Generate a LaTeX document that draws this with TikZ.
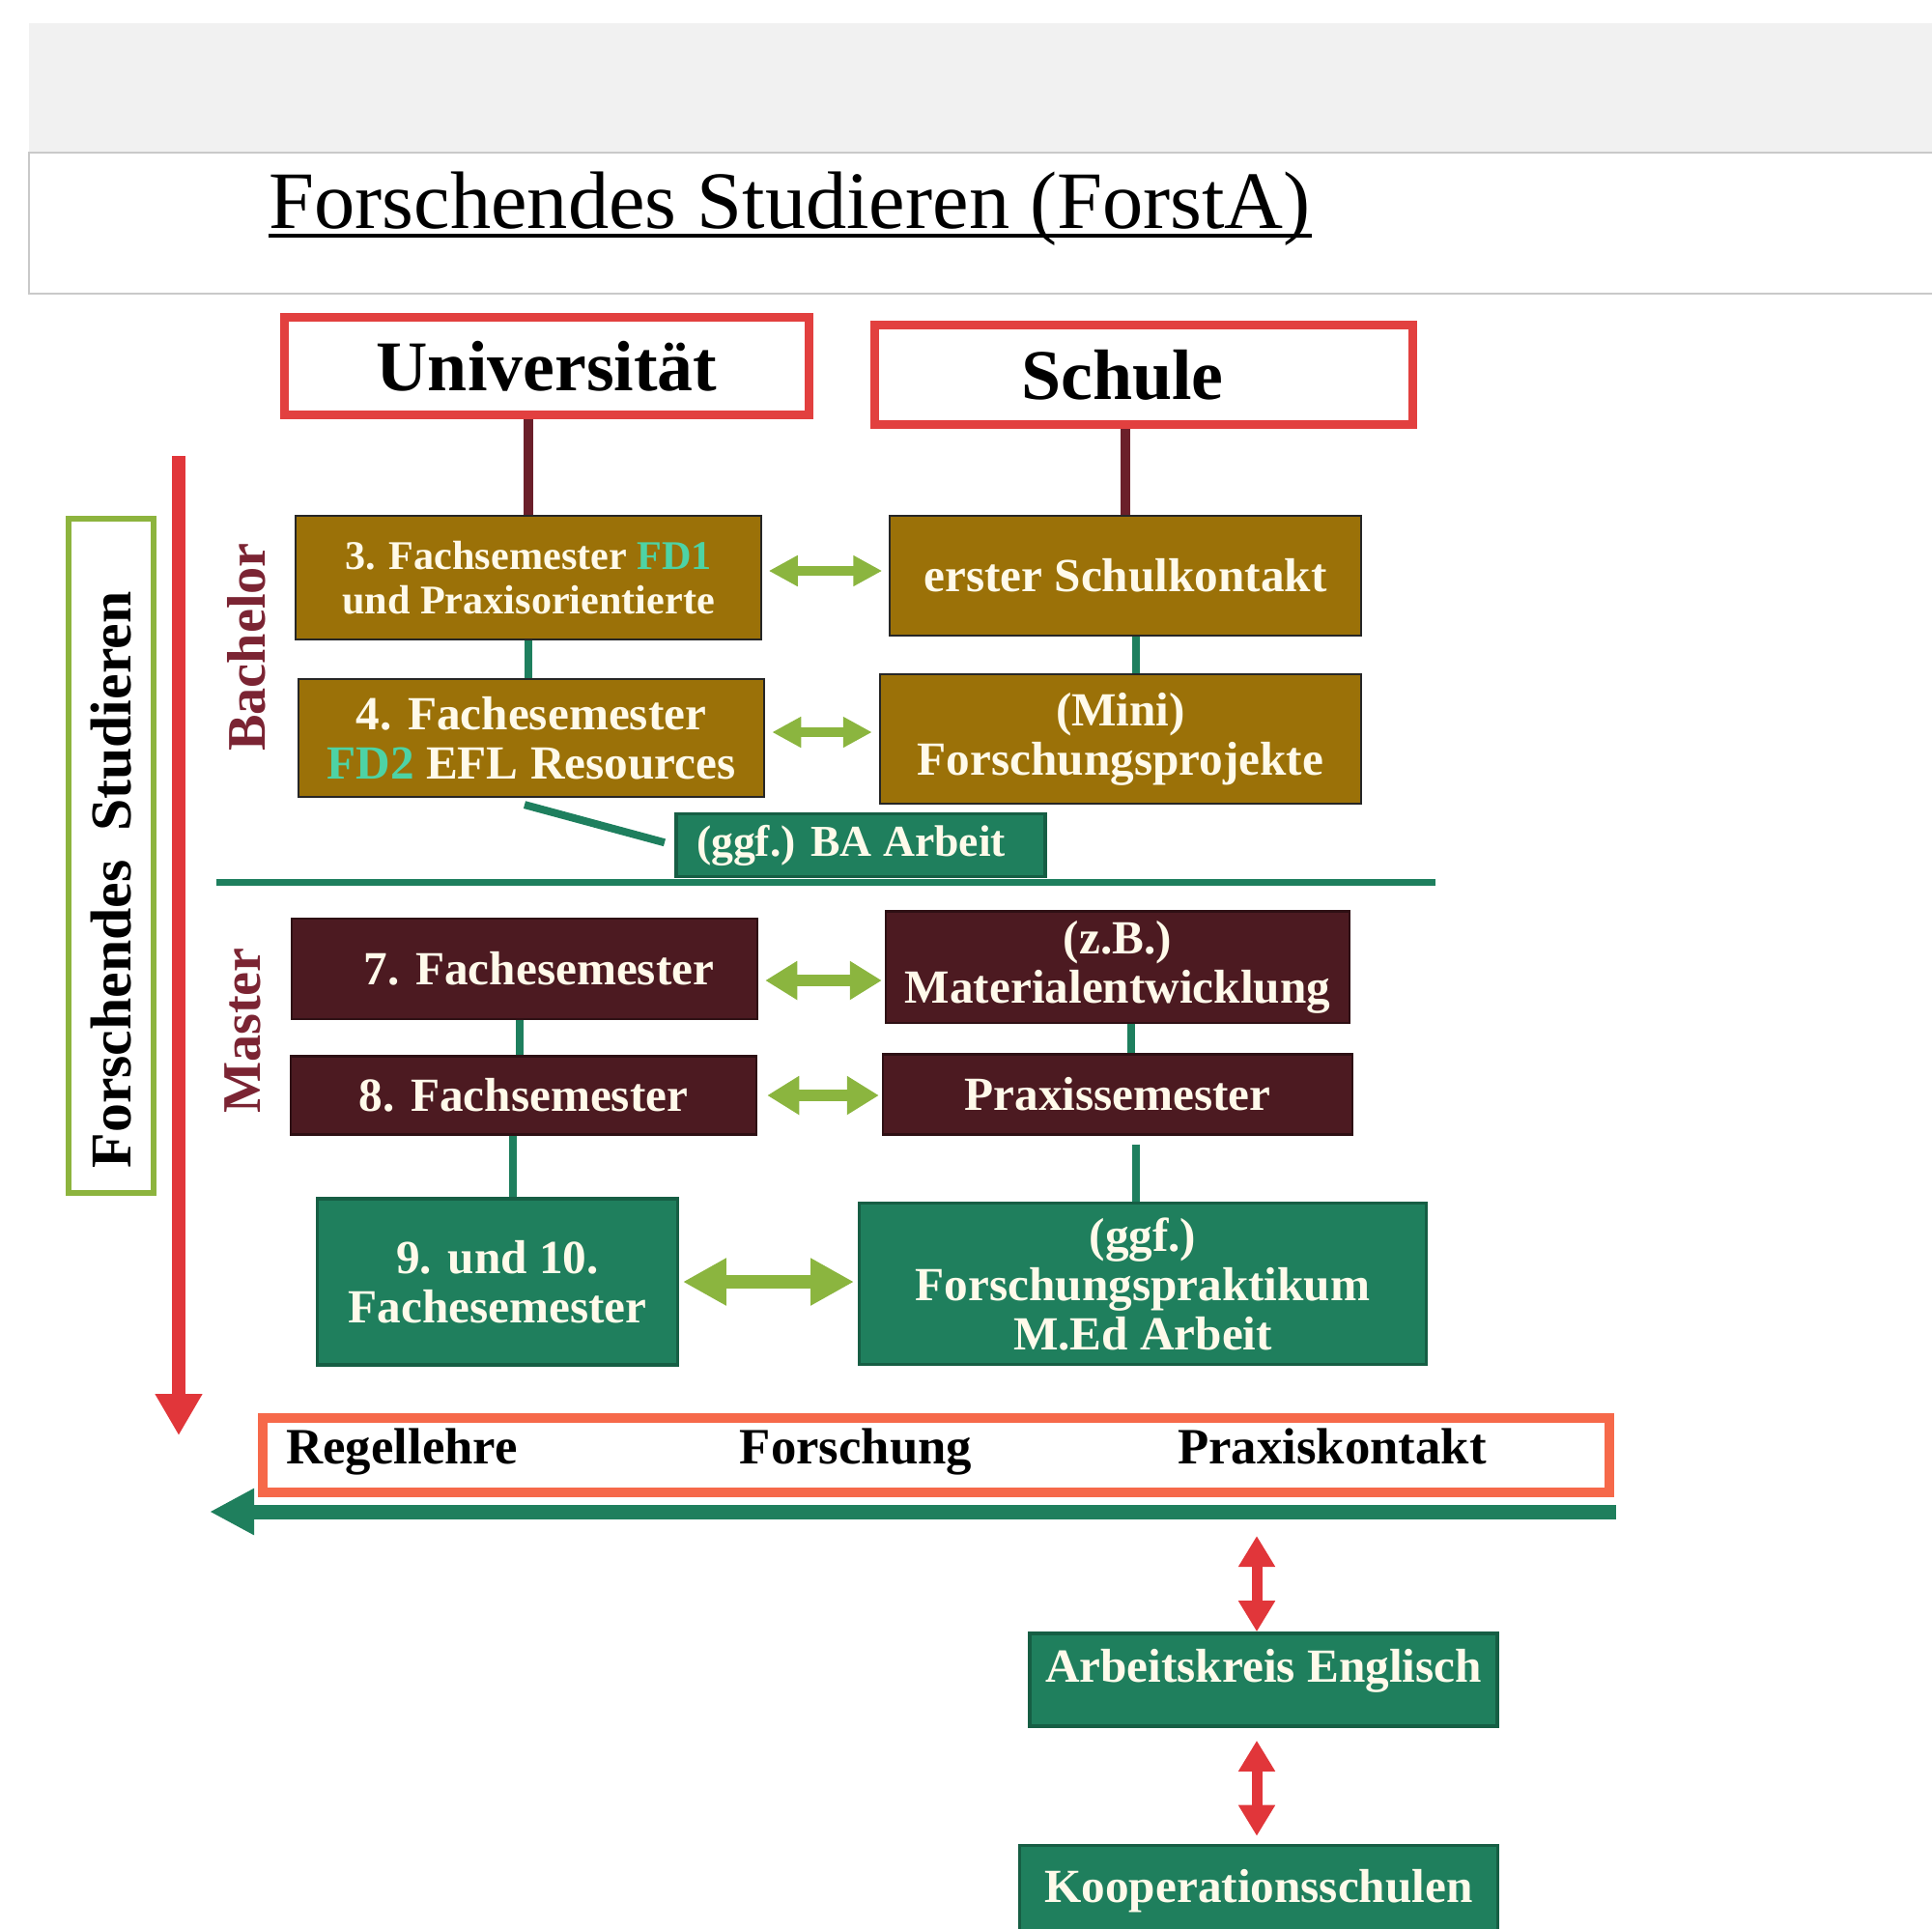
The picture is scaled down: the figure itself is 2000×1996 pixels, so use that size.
\documentclass[tikz,border=0pt]{standalone}
\usepackage{fontspec}
\setmainfont{Liberation Serif}
\usetikzlibrary{arrows.meta}

\definecolor{bandgray}{HTML}{F1F1F1}
\definecolor{framegray}{HTML}{C9C9C9}
\definecolor{redframe}{HTML}{E2403F}
\definecolor{orangeframe}{HTML}{F6694A}
\definecolor{framegreen}{HTML}{8DB43E}
\definecolor{brownfill}{HTML}{9B7108}
\definecolor{maroonfill}{HTML}{4C1A21}
\definecolor{greenfill}{HTML}{1F7F5D}
\definecolor{greendark}{HTML}{165E44}
\definecolor{boxtext}{HTML}{FFFAEA}
\definecolor{fdtext}{HTML}{4DD3A5}
\definecolor{maroonline}{HTML}{6B1F2A}
\definecolor{labelmaroon}{HTML}{7B2433}
\definecolor{tealline}{HTML}{1E7F5E}
\definecolor{arrowgreen}{HTML}{8BB53F}
\definecolor{arrowred}{HTML}{E1363A}

\begin{document}
\begin{tikzpicture}[x=0.01cm,y=-0.01cm,
    box/.style={draw=black!85,line width=0.6pt,text=boxtext,align=center,inner sep=0pt,
      font=\bfseries\fontsize{14}{14.5}\selectfont},
    bachbox/.style={box,fill=brownfill},
    masterbox/.style={box,fill=maroonfill,draw=maroonfill!60!black},
    greenbox/.style={box,fill=greenfill,draw=greendark,line width=1pt},
    headbox/.style={draw=redframe,line width=0.09cm,inner sep=0pt,
      font=\bfseries\fontsize{21}{24}\selectfont},
    phase/.style={rotate=90,text=labelmaroon,font=\bfseries\fontsize{16}{18}\selectfont},
    strand/.style={anchor=base,font=\bfseries\fontsize{15}{17}\selectfont},
    uniline/.style={draw=maroonline,line width=0.1cm},
    link/.style={draw=tealline,line width=0.08cm},
    pair/.style={draw=arrowgreen,line width=0.1cm,
      {Triangle[width=0.3cm,length=0.3cm]}-{Triangle[width=0.3cm,length=0.3cm]}},
    midpair/.style={draw=arrowgreen,line width=0.12cm,
      {Triangle[width=0.38cm,length=0.33cm]}-{Triangle[width=0.38cm,length=0.33cm]}},
    bigpair/.style={draw=arrowgreen,line width=0.14cm,
      {Triangle[width=0.46cm,length=0.45cm]}-{Triangle[width=0.46cm,length=0.45cm]}},
    redpair/.style={draw=arrowred,line width=0.11cm,
      {Triangle[width=0.36cm,length=0.32cm]}-{Triangle[width=0.36cm,length=0.32cm]}}]
  \useasboundingbox (0,0) rectangle (2000,1996);
  \clip (0,0) rectangle (2000,1996);

  % header
  \fill[bandgray] (30,24) rectangle (2010,158);
  \draw[framegray,line width=0.7pt] (2010,158) -- (30,158) -- (30,304) -- (2010,304);
  \node[anchor=base west,inner sep=0pt,font=\fontsize{24}{28}\selectfont] (title) at (278,236) {Forschendes Studieren (ForstA)};
  \draw[line width=1.2pt] ([yshift=-2.2pt]title.base west) -- ([yshift=-2.2pt]title.base east);

  \node[headbox,minimum width=5.42cm,minimum height=1.01cm] (uni) at (566,379) {Universität};
  \node[headbox,minimum width=5.56cm,minimum height=1.03cm] (schule) at (1184,388) {Schule\hspace*{0.44cm}};

  % bachelor
  \node[bachbox,minimum width=4.81cm,minimum height=1.28cm,font=\bfseries\fontsize{12}{13.3}\selectfont] (b3) at (547,598)
    {3. Fachsemester \textcolor{fdtext}{FD1}\\und Praxisorientierte};
  \node[bachbox,minimum width=4.87cm,minimum height=1.24cm] (kontakt) at (1165,596) {erster Schulkontakt};
  \node[bachbox,minimum width=4.82cm,minimum height=1.22cm] (b4) at (550,764)
    {4. Fachesemester\\\textcolor{fdtext}{FD2} EFL Resources};
  \node[bachbox,minimum width=4.98cm,minimum height=1.34cm] (mini) at (1160,765) {(Mini)\\Forschungsprojekte};
  \node[greenbox,minimum width=3.82cm,minimum height=0.65cm,font=\bfseries\fontsize{13}{14}\selectfont] (ba) at (891,875) {(ggf.) BA Arbeit\hspace*{0.2cm}};
  \node[phase] (bachelor) at (255,670) {Bachelor};

  \draw[uniline] (uni.south -| b3.north) -- (b3.north);
  \draw[uniline] (schule.south -| kontakt.north) -- (kontakt.north);
  \draw[link] (b3.south) -- (b3.south |- b4.north);
  \draw[link] ([xshift=0.11cm]kontakt.south) -- ([xshift=0.11cm]kontakt.south |- mini.north);
  \draw[link,shorten >=3pt] ([xshift=-0.07cm,yshift=-0.07cm]b4.south) -- (ba.west);
  \draw[pair,shorten <=2pt,shorten >=2pt] ([yshift=0.07cm]b3.east) -- ([yshift=0.07cm]b3.east -| kontakt.west);
  \draw[pair,shorten <=2pt,shorten >=2pt] ([yshift=0.06cm]b4.east) -- ([yshift=0.06cm]b4.east -| mini.west);

  \coordinate (divl) at (224,913);
  \coordinate (divr) at (1486,913);
  \draw[tealline,line width=0.07cm] (divl) -- (divr);

  % master
  \node[masterbox,minimum width=4.82cm,minimum height=1.04cm] (m7) at (543,1003) {\hspace*{0.3cm}7. Fachesemester};
  \node[masterbox,minimum width=4.79cm,minimum height=1.15cm] (material) at (1157,1001) {(z.B.)\\Materialentwicklung};
  \node[masterbox,minimum width=4.81cm,minimum height=0.81cm] (m8) at (542,1134) {8. Fachsemester};
  \node[masterbox,minimum width=4.85cm,minimum height=0.83cm] (praxis) at (1157,1133) {Praxissemester};
  \node[greenbox,minimum width=3.73cm,minimum height=1.72cm] (m9) at (515,1327) {9. und 10.\\Fachesemester};
  \node[greenbox,minimum width=5.87cm,minimum height=1.67cm] (fp) at (1183,1329)
    {(ggf.)\\Forschungspraktikum\\M.Ed Arbeit};
  \node[phase] (master) at (251,1067) {Master};

  \draw[link] ([xshift=-0.05cm]m7.south) -- ([xshift=-0.05cm]m7.south |- m8.north);
  \draw[link] ([xshift=0.14cm]material.south) -- ([xshift=0.14cm]material.south |- praxis.north);
  \draw[link] ([xshift=-0.11cm]m8.south) -- ([xshift=-0.11cm]m8.south |- m9.north);
  \draw[link,shorten <=0.09cm] ([xshift=0.19cm]praxis.south) -- ([xshift=0.19cm]praxis.south |- fp.north);
  \draw[midpair,shorten <=2pt,shorten >=1pt] ([yshift=-0.12cm]m7.east) -- ([yshift=-0.12cm]m7.east -| material.west);
  \draw[midpair,shorten <=3pt,shorten >=1pt] (m8.east) -- (m8.east -| praxis.west);
  \draw[bigpair,shorten <=1pt,shorten >=1pt] (m9.east) -- (m9.east -| fp.west);

  % time line
  \node[draw=framegreen,line width=0.06cm,rotate=90,minimum width=6.97cm,minimum height=0.88cm,
    font=\bfseries\fontsize{17}{20}\selectfont] (forsta) at (115,886) {Forschendes\ \ Studieren\hspace*{0.5cm}};
  \coordinate (tstart) at (185,472);
  \coordinate (tend) at (185,1486);
  \draw[arrowred,line width=0.13cm,-{Triangle[width=0.46cm,length=0.43cm]}] (tstart) -- (tend);

  \node[draw=orangeframe,line width=0.1cm,minimum width=13.94cm,minimum height=0.77cm] (strip) at (969,1506) {};
  \node[strand] (regel) at (416,1515) {Regellehre};
  \node[strand] (forschung) at (886,1515) {Forschung};
  \node[strand] (kontaktp) at (1379,1515) {Praxiskontakt};
  \coordinate (gstart) at (1673,1565);
  \coordinate (gend) at (217,1565);
  \draw[greenfill,line width=0.15cm,-{Triangle[width=0.45cm,length=0.46cm]}] (gstart) -- (gend);

  % cooperation
  \node[greenbox,minimum width=4.84cm,minimum height=0.96cm,text depth=0.3cm] (ak) at (1308,1739) {Arbeitskreis Englisch};
  \node[greenbox,minimum width=4.95cm,minimum height=0.95cm] (koop) at (1303,1958) {Kooperationsschulen};
  \coordinate (akin) at (1301,1590);
  \draw[redpair] (akin) -- (akin |- ak.north);
  \draw[redpair,shorten <=0.13cm,shorten >=0.08cm] ([xshift=-0.07cm]ak.south) -- ([xshift=-0.07cm]ak.south |- koop.north);
\end{tikzpicture}
\end{document}
